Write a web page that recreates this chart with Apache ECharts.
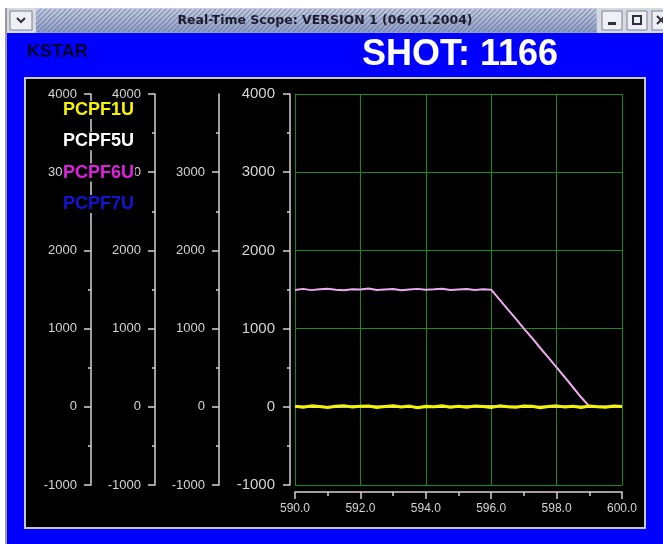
<!DOCTYPE html>
<html>
<head>
<meta charset="utf-8">
<script src="https://cdn.jsdelivr.net/npm/echarts@6/dist/echarts.min.js"></script>
<style>
html, body { margin: 0; padding: 0; background: #fff; }
#main { width: 663px; height: 544px; }
</style>
</head>
<body>
<div id="main"></div>
<script>
var legendNames = ['PCPF1U', 'PCPF5U', 'PCPF6U', 'PCPF7U'];
var legendColors = ['#f4f400', '#ffffff', '#e020e0', '#1414d8'];
var yTicks = [-1000, 0, 1000, 2000, 3000, 4000];
var yTicksNoTop = [-1000, 0, 1000, 2000, 3000];

var time = [590, 590.25, 590.5, 590.75, 591, 591.25, 591.5, 591.75, 592, 592.25,
            592.5, 592.75, 593, 593.25, 593.5, 593.75, 594, 594.25, 594.5, 594.75,
            595, 595.25, 595.5, 595.75, 596, 596.25, 596.5, 596.75, 597, 597.25,
            597.5, 597.75, 598, 598.25, 598.5, 598.75, 599, 599.25, 599.5, 599.75, 600];
var pcpf1u = [8, -6, 12, 3, -10, 7, 15, -4, 6, 11,
              -8, 4, 14, -2, 9, -12, 6, 1, 13, -5,
              8, -7, 10, 3, -9, 12, 0, -6, 10, 7,
              -11, 4, 12, -3, 6, -8, 11, 2, -6, 9, 5];
var pcpf6u = [1495, 1508, 1492, 1503, 1510, 1497, 1489, 1504, 1500, 1512,
              1494, 1501, 1506, 1490, 1499, 1508, 1496, 1503, 1511, 1493,
              1500, 1507, 1495, 1502, 1498, 1375, 1250, 1128, 1000, 880,
              752, 628, 505, 378, 250, 122, 5, 2, -3, 4, 1];
var timeCoarse = [590, 591, 592, 593, 594, 595, 596, 597, 598, 599, 600];
var pcpf5u = [4, -3, 6, 2, -5, 3, 7, -2, 5, 1, 3];
var pcpf7u = [-2, 3, -4, 1, 2, -3, 0, 4, -1, 2, -2];

function pairs(xs, ys) {
    var out = [];
    for (var i = 0; i < xs.length; i++) out.push([xs[i], ys[i]]);
    return out;
}

// diagonal stripes of the title bar
var hatch = document.createElement('canvas');
hatch.width = 5; hatch.height = 5;
var hc = hatch.getContext('2d');
hc.strokeStyle = 'rgba(80,95,140,0.55)';
hc.lineWidth = 1.2;
hc.beginPath();
hc.moveTo(0, 5); hc.lineTo(5, 0);
hc.moveTo(-1, 1); hc.lineTo(1, -1);
hc.moveTo(4, 6); hc.lineTo(6, 4);
hc.stroke();

var axisGray = '#d4d4d4';
var gridGreen = '#188c18';

function sideAxis(offset, fontSize, margin, ticks, grid) {
    return {
        type: 'value',
        position: 'left',
        offset: offset,
        min: -1000,
        max: 4000,
        interval: 1000,
        axisLine: { show: true, onZero: false, lineStyle: { color: axisGray, width: 1.5 } },
        axisTick: { show: true, length: 7, customValues: ticks, lineStyle: { color: axisGray, width: 1.5 } },
        minorTick: { show: true, splitNumber: 2, length: 3, lineStyle: { color: axisGray, width: 1.5 } },
        axisLabel: {
            color: axisGray, fontSize: fontSize, margin: margin,
            fontFamily: 'Liberation Sans', customValues: ticks,
            formatter: function (v) { return String(v); }
        },
        splitLine: { show: grid, lineStyle: { color: gridGreen, width: 1 } }
    };
}

var chrome = [
    { type: 'rect', shape: { x: 5, y: 8, width: 2, height: 536 }, style: { fill: '#9a9a9a' } },
    { type: 'rect', shape: { x: 7, y: 32, width: 656, height: 512 }, style: { fill: '#0000ff' } },
    { type: 'rect', shape: { x: 7, y: 8, width: 656, height: 25 },
      style: { fill: new echarts.graphic.LinearGradient(0, 0, 0, 1, [
          { offset: 0, color: '#c6cee2' }, { offset: 1, color: '#909ec6' }]) } },
    { type: 'rect', shape: { x: 36, y: 9, width: 560, height: 23 },
      style: { fill: { image: hatch, repeat: 'repeat' } } },
    { type: 'rect', shape: { x: 7, y: 8, width: 29, height: 25 }, style: { fill: '#d6dae2' } },
    { type: 'rect', shape: { x: 10, y: 11, width: 22, height: 19 },
      style: { fill: '#eef0f4', stroke: '#7a8090', lineWidth: 1 } },
    { type: 'polyline', shape: { points: [[17, 18], [21, 22], [25, 18]] },
      style: { stroke: '#303040', lineWidth: 2, fill: null } },
    { type: 'rect', shape: { x: 597, y: 8, width: 66, height: 25 }, style: { fill: '#d6dae2' } },
    { type: 'rect', shape: { x: 602, y: 11, width: 20, height: 19 },
      style: { fill: '#eef0f4', stroke: '#7a8090', lineWidth: 1 } },
    { type: 'rect', shape: { x: 627, y: 11, width: 20, height: 19 },
      style: { fill: '#eef0f4', stroke: '#7a8090', lineWidth: 1 } },
    { type: 'rect', shape: { x: 652, y: 11, width: 20, height: 19 },
      style: { fill: '#eef0f4', stroke: '#7a8090', lineWidth: 1 } },
    { type: 'rect', shape: { x: 608, y: 22, width: 8, height: 3 }, style: { fill: '#303040' } },
    { type: 'rect', shape: { x: 633, y: 16, width: 8, height: 8 },
      style: { fill: null, stroke: '#303040', lineWidth: 2 } },
    { type: 'polyline', shape: { points: [[657, 16], [665, 24]] }, style: { stroke: '#303040', lineWidth: 2 } },
    { type: 'polyline', shape: { points: [[665, 16], [657, 24]] }, style: { stroke: '#303040', lineWidth: 2 } },
    { type: 'text', x: 325, y: 21,
      style: { text: 'Real-Time Scope: VERSION 1 (06.01.2004)', font: 'bold 12.5px "DejaVu Sans"',
               fill: '#1c1c2c', align: 'center', verticalAlign: 'middle',
               textAlign: 'center', textVerticalAlign: 'middle' } },
    { type: 'rect', shape: { x: 25, y: 78, width: 620, height: 450 },
      style: { fill: '#000000', stroke: '#c8c8c8', lineWidth: 2 } },
    { type: 'text', x: 27, y: 52,
      style: { text: 'KSTAR', font: 'bold 18px "Liberation Sans"', fill: '#000028',
               align: 'left', verticalAlign: 'middle', textAlign: 'left', textVerticalAlign: 'middle' } },
    { type: 'text', x: 460, y: 55,
      style: { text: 'SHOT: 1166', font: 'bold 36px "Liberation Sans"', fill: '#ffffff',
               align: 'center', verticalAlign: 'middle', textAlign: 'center', textVerticalAlign: 'middle' } }
];
chrome.forEach(function (el) { el.z = -100; el.silent = true; });

var option = {
    animation: false,
    backgroundColor: '#ffffff',
    graphic: { elements: chrome },
    grid: { left: 295, right: 41, top: 94, bottom: 59, outerBoundsMode: 'none' },
    legend: {
        data: legendNames.map(function (n, i) {
            return { name: n, icon: 'none', textStyle: { color: legendColors[i] } };
        }),
        orient: 'vertical',
        left: 58,
        top: 101,
        padding: 0,
        itemWidth: 0,
        itemHeight: 18,
        itemGap: 13.3,
        selectedMode: false,
        textStyle: {
            fontSize: 18, fontFamily: 'Liberation Sans', fontWeight: 'bold', lineHeight: 18,
            backgroundColor: '#000000', padding: [0, 1, 0, 0]
        }
    },
    xAxis: {
        type: 'value',
        min: 590,
        max: 600,
        interval: 2,
        offset: 7,
        axisLine: { show: true, onZero: false, lineStyle: { color: axisGray, width: 1.5 } },
        axisTick: { show: true, length: 7, lineStyle: { color: axisGray, width: 1.5 } },
        minorTick: { show: true, splitNumber: 2, length: 4, lineStyle: { color: axisGray, width: 1.5 } },
        axisLabel: {
            color: axisGray, fontSize: 12, margin: 11, fontFamily: 'Liberation Sans',
            formatter: function (v) { return v.toFixed(1); }
        },
        splitLine: { show: true, lineStyle: { color: gridGreen, width: 1 } }
    },
    yAxis: [
        sideAxis(5, 15, 15, yTicks, true),
        sideAxis(76, 13, 14, yTicksNoTop, false),
        sideAxis(140, 13, 14, yTicks, false),
        sideAxis(204, 13, 14, yTicks, false)
    ],
    series: [
        { name: 'PCPF7U', type: 'line', showSymbol: false, data: pairs(timeCoarse, pcpf7u),
          lineStyle: { color: '#1414d8', width: 2 }, itemStyle: { color: '#1414d8' } },
        { name: 'PCPF5U', type: 'line', showSymbol: false, data: pairs(timeCoarse, pcpf5u),
          lineStyle: { color: '#ffffff', width: 2 }, itemStyle: { color: '#ffffff' } },
        { name: 'PCPF6U', type: 'line', showSymbol: false, data: pairs(time, pcpf6u),
          lineStyle: { color: '#eeaaee', width: 2 }, itemStyle: { color: '#eeaaee' } },
        { name: 'PCPF1U', type: 'line', showSymbol: false, data: pairs(time, pcpf1u),
          lineStyle: { color: '#f4f400', width: 3 }, itemStyle: { color: '#f4f400' } }
    ]
};

var chart = echarts.init(document.getElementById('main'));
chart.setOption(option);
</script>
</body>
</html>
